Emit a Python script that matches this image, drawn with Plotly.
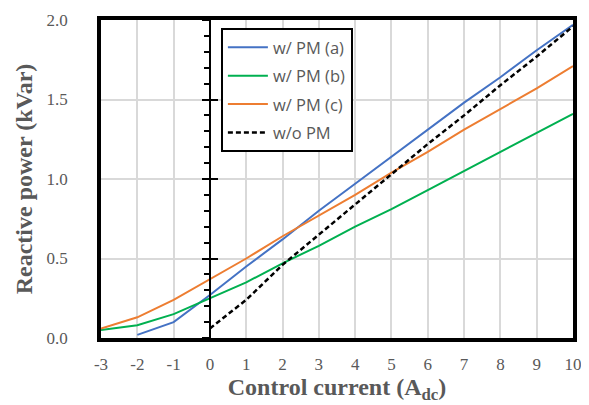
import plotly.graph_objects as go

x_a = [-2, -1, 0, 1, 2, 3, 4, 5, 6, 7, 8, 9, 10]
y_a = [0.02, 0.10, 0.27, 0.45, 0.62, 0.80, 0.97, 1.14, 1.31, 1.48, 1.64, 1.81, 1.97]

x_b = [-3, -2, -1, 0, 1, 2, 3, 4, 5, 6, 7, 8, 9, 10]
y_b = [0.05, 0.08, 0.15, 0.25, 0.35, 0.47, 0.58, 0.70, 0.81, 0.93, 1.05, 1.17, 1.29, 1.41]

x_c = [-3, -2, -1, 0, 1, 2, 3, 4, 5, 6, 7, 8, 9, 10]
y_c = [0.06, 0.13, 0.24, 0.37, 0.50, 0.64, 0.77, 0.90, 1.04, 1.17, 1.31, 1.44, 1.57, 1.71]

x_o = [0, 1, 2, 3, 4, 5, 6, 7, 8, 9, 10]
y_o = [0.06, 0.24, 0.46, 0.65, 0.84, 1.03, 1.22, 1.40, 1.59, 1.77, 1.96]

names = ["w/ PM (a)", "w/ PM (b)", "w/ PM (c)", "w/o PM"]
colors = ["#4472C4", "#00B050", "#ED7D31", "#000000"]

x_tickvals = [-3, -2, -1, 0, 1, 2, 3, 4, 5, 6, 7, 8, 9, 10]
x_ticktext = ["-3", "-2", "-1", "0", "1", "2", "3", "4", "5", "6", "7", "8", "9", "10"]
y_tickvals = [0.0, 0.5, 1.0, 1.5, 2.0]
y_ticktext = ["0.0", "0.5", "1.0", "1.5", "2.0"]

x_min, x_max = -3, 10
y_min, y_max = 0.0, 2.0

fig = go.Figure()
series = [(x_a, y_a), (x_b, y_b), (x_c, y_c), (x_o, y_o)]
for i, ((xs, ys), nm, col) in enumerate(zip(series, names, colors)):
    fig.add_trace(go.Scatter(
        x=xs, y=ys, mode="lines", name=nm, legendgroup=nm,
        line=dict(color=col, width=2.5 if i == 3 else 2,
                  dash="5px,3px" if i == 3 else "solid"),
    ))

# invisible traces to host the crossing axis at x=0
fig.add_trace(go.Scatter(x=[0], y=[0], yaxis="y2", showlegend=False,
                         mode="markers", marker=dict(opacity=0), hoverinfo="skip"))
fig.add_trace(go.Scatter(x=[0], y=[0], yaxis="y3", showlegend=False,
                         mode="markers", marker=dict(opacity=0), hoverinfo="skip"))

tick_font = dict(family="Liberation Serif", size=17, color="#595959")
title_font = dict(family="Liberation Serif", size=24, color="#595959")
pos0 = (0 - x_min) / (x_max - x_min)

# page body carries an 8px margin; figure is shrunk so the plot sits where the reference has it
fig.update_layout(
    width=581, height=397,
    margin=dict(l=93, r=16, t=12, b=67, autoexpand=False),
    paper_bgcolor="white", plot_bgcolor="white",
    showlegend=True,
    legend=dict(
        x=0.254, y=0.975, xanchor="left", yanchor="top",
        bgcolor="white", bordercolor="black", borderwidth=2,
        font=dict(family="Open Sans", size=16.5, color="#595959"),
        tracegroupgap=4, itemwidth=40,
    ),
    xaxis=dict(
        range=[x_min, x_max], tickvals=x_tickvals, ticktext=x_ticktext,
        showgrid=True, gridcolor="#D9D9D9", gridwidth=1.5,
        showline=True, linecolor="black", linewidth=3.5, mirror=True,
        ticks="", zeroline=False, ticklabelstandoff=8, automargin=False,
        tickfont=tick_font,
        title=dict(text="<b>Control current (A<sub>dc</sub>)</b>", font=title_font, standoff=6),
    ),
    yaxis=dict(
        range=[y_min, y_max], tickvals=y_tickvals, ticktext=y_ticktext,
        showgrid=True, gridcolor="#D9D9D9", gridwidth=1.5,
        showline=True, linecolor="black", linewidth=3.5, mirror=True,
        ticks="", zeroline=False, ticklabelstandoff=26, automargin=False,
        tickfont=tick_font,
        title=dict(text="<b>Reactive power (kVar)</b>", font=title_font, standoff=8),
    ),
    yaxis2=dict(
        range=[y_min, y_max], overlaying="y", anchor="free", position=pos0, side="left",
        showline=True, linecolor="black", linewidth=1.5, automargin=False,
        showgrid=False, zeroline=False, showticklabels=False,
        dtick=0.5, ticks="outside", ticklen=7, tickwidth=1.5, tickcolor="black",
        minor=dict(dtick=0.1, ticks="outside", ticklen=5, tickwidth=1.5, tickcolor="black", showgrid=False),
    ),
    yaxis3=dict(
        range=[y_min, y_max], overlaying="y", anchor="free", position=pos0, side="left",
        showline=False, showgrid=False, zeroline=False, showticklabels=False, automargin=False,
        dtick=0.5, ticks="inside", ticklen=7, tickwidth=1.5, tickcolor="black",
    ),
)

fig.write_html("out.html")
